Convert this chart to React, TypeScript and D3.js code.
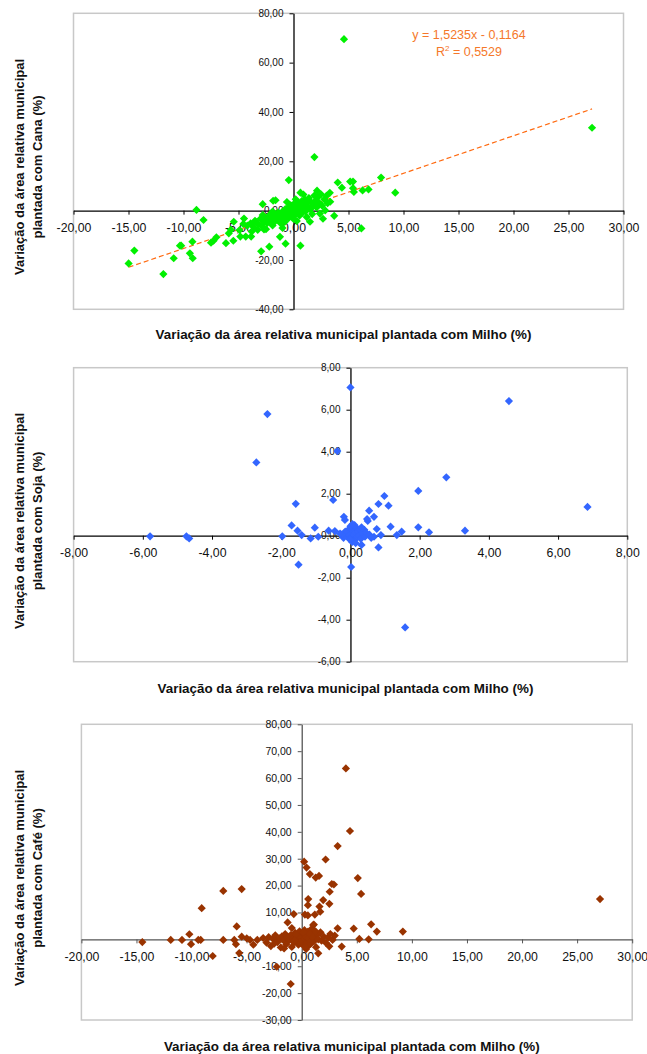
import React, { useEffect, useRef } from "react";
import * as d3 from "d3";

// Milho (x) vs Cana (y)
const milhoCana: [number, number][] = [
  [4.59, 69.5], [27.14, 33.6], [1.9, 21.7], [-0.43, 12.4], [7.96, 13.4], [9.25, 7.3],
  [4.02, 11.4], [5.15, 11.8], [5.41, 11.8], [4.4, 9.3], [5.41, 9.1], [5.49, 7.6],
  [6.28, 8.2], [6.82, 8.6], [6.17, -7.2], [3.7, -2.1], [2.68, -3.3], [2.88, 0.1],
  [3.34, 3.6], [1.5, -4.5], [0.63, -14.2], [-0.72, -13.4], [-1.23, -10.6], [-2.2, -14.6],
  [-2.94, -16.5], [-2.8, 2.6], [-1.63, 4.2], [-1.85, 4.0], [0.63, 7.3], [2.14, 8.1],
  [-8.82, 0.3], [-8.18, -3.8], [-9.19, -12.6], [-10.21, -14.2], [-10.32, -14.2], [-9.42, -17.3],
  [-9.16, -19.3], [-10.89, -19.3], [-11.83, -25.7], [-14.47, -16.2], [-14.99, -21.4], [-7.01, -10.8],
  [-7.27, -12.2], [-7.5, -13.0], [-6.14, -13.2], [-5.47, -12.2], [-4.83, -10.5], [-4.34, -10.5],
  [-3.85, -10.5], [-5.43, -4.5], [-5.88, -9.2], [-5.69, -7.8], [-4.56, -5.4], [-3.43, -4.5],
  [-3.25, -7.8], [-2.68, -7.6], [-1.93, -5.4],
  [-4.2, -6.1], [-3.9, -5.2], [-3.6, -6.8], [-3.5, -4.1], [-3.2, -5.6], [-3.0, -3.3],
  [-2.9, -6.2], [-2.7, -4.6], [-2.6, -2.8], [-2.4, -5.1], [-2.3, -3.6], [-2.2, -1.9],
  [-2.1, -4.3], [-2.0, -2.7], [-1.9, -6.0], [-1.8, -3.1], [-1.7, -1.6], [-1.6, -4.0],
  [-1.5, -2.2], [-1.4, -0.8], [-1.35, -3.4], [-1.25, -1.5], [-1.2, -5.0], [-1.1, -2.6],
  [-1.0, -0.4], [-0.95, -1.9], [-0.9, -3.8], [-0.8, -1.1], [-0.75, 0.6], [-0.7, -2.5],
  [-0.6, -0.3], [-0.55, -1.7], [-0.5, 1.2], [-0.45, -3.0], [-0.4, -0.9], [-0.35, 0.4],
  [-0.3, -1.8], [-0.25, 2.1], [-0.2, -0.6], [-0.15, 0.9], [-0.1, -2.3], [-0.05, 0.2],
  [0, -1.0], [0.05, 1.6], [0.1, -0.2], [0.15, 0.7], [0.2, -1.5], [0.25, 2.5],
  [0.3, 0.3], [0.35, -0.7], [0.4, 1.4], [0.45, 3.2], [0.5, 0.1], [0.55, -2.0],
  [0.6, 1.9], [0.7, 0.8], [0.75, 3.9], [0.8, -0.9], [0.9, 2.3], [1.0, 1.2],
  [1.05, 4.5], [1.1, -0.3], [1.2, 2.9], [1.3, 1.7], [1.4, 5.1], [1.5, 0.6],
  [1.6, 3.5], [1.7, -1.4], [1.8, 2.2], [1.9, 6.1], [2.0, 4.0], [2.1, 1.3],
  [2.2, 5.4], [2.35, 3.1], [2.5, 6.6], [2.6, 2.0], [2.8, 4.6], [3.0, 6.0],
  [3.1, 3.0], [3.3, 7.2], [-3.8, -8.5], [-2.5, -7.5], [-1.0, -7.0], [0.3, -4.2],
  [1.2, -2.6], [2.4, -1.2], [-4.9, -7.9], [-4.5, -3.2], [-0.6, 3.5], [0.9, 6.5],
  [-0.2, 1.8], [0.1, 3.0], [0.6, -0.5], [1.1, 0.4], [-1.3, -2.0], [-0.8, -4.6],
  [0.2, 4.6], [1.6, 1.0], [2.3, 2.6], [-2.8, -1.8], [-1.9, -0.4], [0.0, -3.4],
];

// Milho (x) vs Soja (y)
const milhoSoja: [number, number][] = [
  [0.0, 7.06], [4.58, 6.41], [-2.4, 5.79], [-2.72, 3.49], [-0.38, 4.03], [2.77, 2.78],
  [1.96, 2.13], [6.85, 1.37], [0.98, 1.89], [1.1, 1.43], [0.81, 1.51], [0.54, 1.19],
  [0.68, 0.9], [0.5, 0.7], [0.48, 0.79], [-0.5, 1.7], [-1.58, 1.52], [-1.7, 0.49],
  [-1.53, 0.24], [-1.41, 0.03], [-1.97, -0.03], [-1.03, 0.38], [-1.15, -0.13], [-0.93, -0.05],
  [-0.63, 0.24], [-0.45, 0.22], [-0.19, 0.9], [-0.16, 0.75], [-1.5, -1.38], [0.02, -1.49],
  [0.32, -0.44], [0.81, -0.56], [1.58, -4.37], [-5.79, -0.03], [-4.74, -0.03], [-4.66, -0.13],
  [1.16, 0.43], [1.96, 0.4], [1.48, 0.19], [1.34, 0.03], [2.27, 0.16], [3.31, 0.24],
  [0.76, 0.32], [0.68, -0.05], [0.88, 0.03],
  [0.02, 0.1], [0.05, -0.1], [0.08, 0.25], [0.1, 0.05], [0.12, -0.2], [0.15, 0.15],
  [-0.05, 0.3], [-0.08, -0.05], [-0.1, 0.12], [0.18, 0.35], [0.2, -0.05], [0.22, 0.2],
  [0.25, 0.0], [0.28, 0.3], [0.3, -0.15], [0.35, 0.12], [0.4, 0.28], [0.42, -0.05],
  [-0.15, 0.2], [-0.2, -0.1], [-0.25, 0.05], [0.0, 0.45], [0.05, -0.3], [0.12, 0.5],
  [-0.02, -0.18], [0.32, 0.4], [0.45, 0.15], [0.55, 0.05], [-0.3, 0.1], [0.6, -0.1],
  [0.15, -0.35], [0.06, 0.55],
];

// Milho (x) vs Café (y)
const milhoCafe: [number, number][] = [
  [4.01, 63.6], [4.38, 40.3], [3.26, 34.7], [2.17, 29.7], [0.22, 28.9], [0.44, 26.7],
  [0.74, 24.3], [1.27, 23.0], [1.57, 23.6], [5.09, 22.8], [2.73, 20.6], [2.92, 20.4],
  [2.54, 17.7], [5.39, 16.9], [27.08, 15.0], [0.59, 15.0], [1.95, 14.6], [2.51, 13.2],
  [0.56, 12.7], [1.61, 12.2], [1.68, 10.3], [1.19, 9.2], [0.29, 9.2], [0.56, 8.9],
  [-0.72, 9.4], [-1.28, 6.3], [1.04, 5.3], [3.26, 4.1], [4.72, 4.0], [6.3, 5.6],
  [6.82, 2.9], [9.18, 2.9], [-7.12, 18.0], [-5.45, 18.7], [-9.08, 11.6], [-5.9, 4.8],
  [-14.47, -1.0], [-11.89, -0.2], [-10.87, -0.2], [-10.2, 1.9], [-10.05, -1.8], [-9.39, -0.2],
  [-9.17, -0.2], [-8.08, -6.2], [-7.12, -0.2], [-6.12, -0.2], [-5.97, -1.8], [-5.67, -5.1],
  [-5.45, 1.0], [-4.99, 0.4], [-4.69, -0.2], [-4.39, -2.0], [-4.03, -0.2], [-2.27, -10.2],
  [-1.0, -16.6], [1.5, -5.2], [3.63, -2.7], [5.23, 0.15], [6.08, 0.0],
  [-3.5, 0.5], [-3.2, -1.2], [-3.0, 0.8], [-2.8, -2.5], [-2.6, 0.2], [-2.4, 1.5],
  [-2.2, -1.0], [-2.0, 0.4], [-1.9, -3.0], [-1.8, 1.1], [-1.6, -0.5], [-1.5, 2.0],
  [-1.4, -1.8], [-1.3, 0.6], [-1.1, -0.2], [-1.0, 1.6], [-0.9, -2.8], [-0.8, 0.3],
  [-0.7, -1.1], [-0.6, 2.4], [-0.5, 0.0], [-0.45, -0.8], [-0.4, 1.0], [-0.3, -2.0],
  [-0.25, 0.5], [-0.2, 3.0], [-0.15, -0.4], [-0.1, 1.3], [-0.05, -1.5], [0, 0.2],
  [0.05, 2.0], [0.1, -0.6], [0.15, 0.9], [0.2, -2.4], [0.25, 3.4], [0.3, 0.1],
  [0.35, 1.7], [0.4, -1.0], [0.5, 0.6], [0.55, 2.8], [0.6, -0.3], [0.7, 1.2],
  [0.8, -1.7], [0.9, 0.4], [1.0, 2.2], [1.1, -0.8], [1.2, 0.9], [1.3, -2.9],
  [1.4, 1.6], [1.5, 0.0], [1.7, 2.6], [1.8, -0.5], [2.0, 1.0], [2.2, -1.3],
  [2.4, 0.7], [2.6, 2.0], [2.8, -0.2], [3.0, 1.4], [0.9, 3.9], [-0.9, 4.2],
  [0.4, -3.6], [-1.6, -3.4], [1.1, 5.5], [-2.5, -1.6], [2.5, -2.6],
  [0.0, -0.8], [0.1, 0.6], [0.2, -0.2], [0.3, 1.2], [0.45, -1.6], [0.6, 0.4],
  [0.75, 2.0], [0.85, -0.6], [1.0, 0.9], [-0.1, -0.3], [-0.3, 0.8], [-0.5, 1.8],
  [-0.2, -1.1], [0.15, 2.6], [0.65, -2.2], [1.25, 3.0], [-0.65, -0.4], [0.35, -2.8],
];

const xTicksMilho = [-20, -15, -10, -5, 0, 5, 10, 15, 20, 25, 30];
const xTicksMilhoSoja = [-8, -6, -4, -2, 0, 2, 4, 6, 8];
const yTicksCana = [-40, -20, 0, 20, 40, 60, 80];
const yTicksSoja = [-6, -4, -2, 0, 2, 4, 6, 8];
const yTicksCafe = [-30, -20, -10, 0, 10, 20, 30, 40, 50, 60, 70, 80];

const canaSlope = 1.5235;
const canaIntercept = -0.1164;
const canaEquation = "y = 1,5235x - 0,1164";
const canaR2 = "0,5529";

const FONT = "'Liberation Sans', Arial, sans-serif";
const ptBR = d3.formatLocale({
  decimal: ",",
  thousands: ".",
  grouping: [3],
  currency: ["", ""],
  minus: "-",
});
const fmt = ptBR.format(".2f");

type Box = { left: number; right: number; top: number; bottom: number };

function ScatterPanel({
  data, xTicks, yTicks, box, color, axisColor, crop, titleY, yTitleCenter, trend, yLabelSize,
}: {
  data: [number, number][];
  xTicks: number[];
  yTicks: number[];
  box: Box;
  color: string;
  axisColor: string;
  crop: string;
  titleY: number;
  yTitleCenter: number;
  trend?: boolean;
  yLabelSize: number;
}) {
  const gRef = useRef<SVGGElement>(null);

  useEffect(() => {
    const g = d3.select(gRef.current);
    g.selectAll("*").remove();

    const x = d3.scaleLinear().domain(d3.extent(xTicks) as [number, number]).range([box.left, box.right]);
    const y = d3.scaleLinear().domain(d3.extent(yTicks) as [number, number]).range([box.bottom, box.top]);

    // plot area border
    g.append("rect")
      .attr("x", box.left)
      .attr("y", box.top)
      .attr("width", box.right - box.left)
      .attr("height", box.bottom - box.top)
      .attr("fill", "none")
      .attr("stroke", "#c8c8c8")
      .attr("stroke-width", 1.5);

    // axes crossing at zero
    const xAxis = g
      .append("g")
      .attr("transform", `translate(0,${y(0)})`)
      .call(d3.axisBottom(x).tickValues(xTicks).tickFormat((d) => fmt(d as number)).tickSize(4).tickSizeOuter(0).tickPadding(9));
    const yAxis = g
      .append("g")
      .attr("transform", `translate(${x(0)},0)`)
      .call(d3.axisLeft(y).tickValues(yTicks).tickFormat((d) => fmt(d as number)).tickSize(4).tickSizeOuter(0).tickPadding(6));

    [xAxis, yAxis].forEach((a) => {
      a.select(".domain").attr("stroke", axisColor).attr("stroke-width", 1.3);
      a.selectAll(".tick line").attr("stroke", axisColor);
      a.selectAll(".tick text").attr("fill", "#111").attr("font-family", FONT);
    });
    xAxis.selectAll(".tick text").attr("font-size", 12.3);
    yAxis.selectAll(".tick text").attr("font-size", yLabelSize);

    // trendline
    if (trend) {
      const [x0, x1] = d3.extent(data, (d) => d[0]) as [number, number];
      const line = d3
        .line<number>()
        .x((v) => x(v))
        .y((v) => y(canaSlope * v + canaIntercept));
      g.append("path")
        .attr("d", line([x0, x1]))
        .attr("fill", "none")
        .attr("stroke", "#ff6a10")
        .attr("stroke-width", 1.2)
        .attr("stroke-dasharray", "5,3");

      const eq = g.append("g").attr("font-family", FONT).attr("font-size", 12.5).attr("fill", "#f5782a").attr("text-anchor", "middle");
      eq.append("text").attr("x", 469).attr("y", 38.5).text(canaEquation);
      const r = eq.append("text").attr("x", 469).attr("y", 56);
      r.append("tspan").text("R");
      r.append("tspan").attr("font-size", 8).attr("dy", -5).text("2");
      r.append("tspan").attr("dy", 5).text(` = ${canaR2}`);
    }

    // markers
    const s = 4.1;
    g.append("g")
      .selectAll("path")
      .data(data)
      .join("path")
      .attr("transform", (d) => `translate(${x(d[0])},${y(d[1])})`)
      .attr("d", `M0,${-s}L${s},0L0,${s}L${-s},0Z`)
      .attr("fill", color);

    // titles
    const titles = g.append("g").attr("font-family", FONT).attr("font-weight", "bold").attr("font-size", 13).attr("fill", "#111").attr("text-anchor", "middle");
    titles
      .append("text")
      .attr("x", (box.left + box.right) / 2 - 5)
      .attr("y", titleY)
      .attr("dy", "0.35em")
      .attr("font-size", 13.4)
      .text("Variação da área relativa municipal plantada com Milho (%)");
    titles
      .append("text")
      .attr("transform", `translate(19,${yTitleCenter}) rotate(-90)`)
      .attr("dy", "0.35em")
      .text("Variação da área relativa municipal");
    titles
      .append("text")
      .attr("transform", `translate(37,${yTitleCenter}) rotate(-90)`)
      .attr("dy", "0.35em")
      .text(`plantada com ${crop} (%)`);
  }, [data, xTicks, yTicks, box, color, axisColor, crop, titleY, yTitleCenter, trend, yLabelSize]);

  return <g ref={gRef} />;
}

const box1 = { left: 73.5, right: 623.5, top: 13.3, bottom: 309.3 };
const box2 = { left: 73.6, right: 627.3, top: 367.7, bottom: 661.7 };
const box3 = { left: 81.4, right: 632.2, top: 724.3, bottom: 1020 };

export default function App() {
  return (
    <svg width={647} height={1054} style={{ position: "absolute", left: 0, top: 0, background: "#fff" }}>
      <ScatterPanel data={milhoCana} xTicks={xTicksMilho} yTicks={yTicksCana} box={box1} color="#00f000" axisColor="#000" crop="Cana" titleY={334} yTitleCenter={167} trend yLabelSize={10} />
      <ScatterPanel data={milhoSoja} xTicks={xTicksMilhoSoja} yTicks={yTicksSoja} box={box2} color="#3366ff" axisColor="#000" crop="Soja" titleY={688} yTitleCenter={521} yLabelSize={10} />
      <ScatterPanel data={milhoCafe} xTicks={xTicksMilho} yTicks={yTicksCafe} box={box3} color="#993300" axisColor="#555" crop="Café" titleY={1046} yTitleCenter={878} yLabelSize={10.5} />
    </svg>
  );
}
